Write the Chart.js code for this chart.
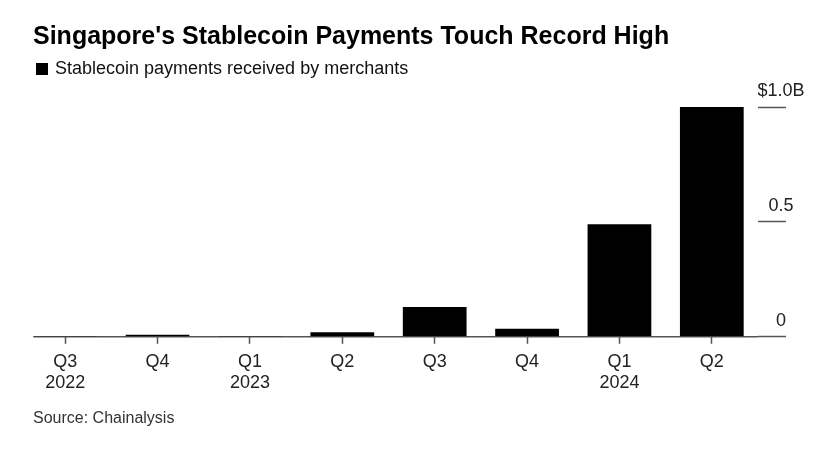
<!DOCTYPE html>
<html>
<head>
<meta charset="utf-8">
<script src="https://cdn.jsdelivr.net/npm/chart.js@4/dist/chart.umd.min.js"></script>
<style>
  html, body { margin: 0; padding: 0; background: #fff; }
  body { width: 825px; height: 454px; position: relative; overflow: hidden; font-family: "Liberation Sans", Arial, sans-serif; }
  #wrap { position: absolute; left: 0; top: 0; width: 825px; height: 454px; }
  .t { position: absolute; white-space: nowrap; line-height: 1; }
  #title { left: 33px; top: 23px; font-size: 25px; font-weight: bold; color: #000; }
  #legend { left: 36px; top: 59px; font-size: 18px; color: #111; }
  #legend .sq { display: inline-block; width: 12px; height: 12px; background: #000; margin-right: 7px; vertical-align: -1px; }
  #source { left: 33px; top: 410px; font-size: 16px; color: #333; }
</style>
</head>
<body>
<div id="wrap"><canvas id="c" width="825" height="454"></canvas></div>
<div class="t" id="title">Singapore's Stablecoin Payments Touch Record High</div>
<div class="t" id="legend"><span class="sq"></span>Stablecoin payments received by merchants</div>
<div class="t" id="source">Source: Chainalysis</div>
<script>
const quarters = ['Q3', 'Q4', 'Q1', 'Q2', 'Q3', 'Q4', 'Q1', 'Q2'];
const years = ['2022', '', '2023', '', '', '', '2024', ''];
const payments = [0.004, 0.009, 0.004, 0.02, 0.13, 0.035, 0.49, 1.0]; // $ billions
const yTicks = [0, 0.5, 1.0];
const yTickLabels = ['0', '0.5', '$1.0B'];
const seriesName = 'Stablecoin payments received by merchants';

const labels = quarters.map((q, i) => years[i] ? [q, years[i]] : q);

const baseline = {
  id: 'baseline',
  beforeDatasetsDraw(chart) {
    const ctx = chart.ctx;
    const y = chart.scales.y.getPixelForValue(0);
    const bar = chart.getDatasetMeta(0).data[0];
    const x0 = bar.x - bar.width / 2;
    const x1 = chart.chartArea.right;
    ctx.save();
    ctx.strokeStyle = '#555';
    ctx.lineWidth = 1.5;
    ctx.beginPath();
    ctx.moveTo(x0, y);
    ctx.lineTo(x1, y);
    ctx.stroke();
    ctx.restore();
  }
};

new Chart(document.getElementById('c'), {
  type: 'bar',
  data: {
    labels: labels,
    datasets: [{
      label: seriesName,
      data: payments,
      backgroundColor: '#000',
      borderWidth: 0,
      categoryPercentage: 1.0,
      barPercentage: 0.69
    }]
  },
  options: {
    responsive: false,
    animation: false,
    events: [],
    layout: { padding: { left: 19, right: 0, top: 107, bottom: 53 } },
    plugins: { legend: { display: false }, title: { display: false }, tooltip: { enabled: false } },
    scales: {
      x: {
        offset: true,
        border: { display: false },
        grid: { display: true, drawOnChartArea: false, drawTicks: true, tickLength: 7, tickColor: '#555', tickWidth: 1.5, offset: false },
        ticks: { color: '#222', font: { family: 'Liberation Sans', size: 18, lineHeight: 1.2 }, padding: 7, maxRotation: 0, autoSkip: false }
      },
      y: {
        position: 'right',
        min: 0,
        max: 1.0,
        afterBuildTicks(scale) { scale.ticks = yTicks.map(v => ({ value: v })); },
        afterFit(scale) { scale.width = 67; },
        border: { display: false },
        grid: { display: true, drawOnChartArea: false, drawTicks: true, tickLength: 28, tickColor: '#555', tickWidth: 1.5 },
        ticks: {
          color: '#222',
          font: { family: 'Liberation Sans', size: 18 },
          crossAlign: 'center',
          padding: -28.5,
          labelOffset: -16,
          callback: (v) => { const i = yTicks.indexOf(v); return i >= 0 ? yTickLabels[i] : ''; }
        }
      }
    }
  },
  plugins: [baseline]
});
</script>
</body>
</html>
